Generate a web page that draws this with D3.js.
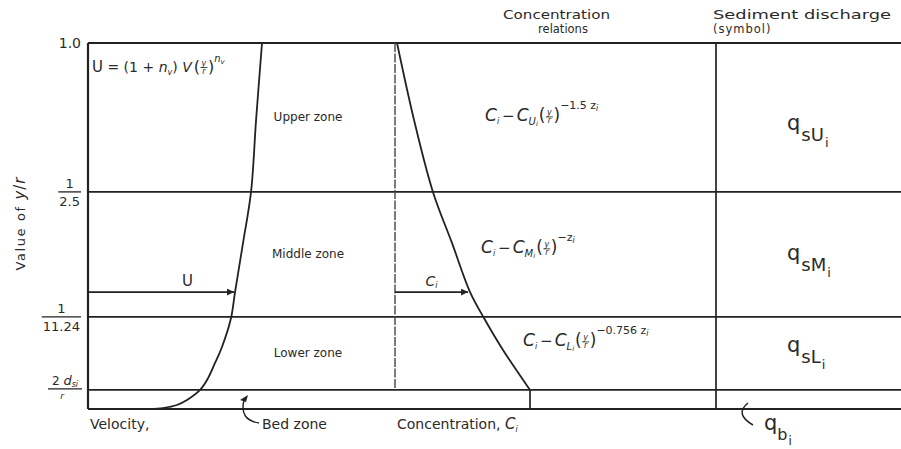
<!DOCTYPE html>
<html><head><meta charset="utf-8">
<script src="https://cdn.jsdelivr.net/npm/d3@7"></script>
<style>
body{margin:0;background:#fff}
svg{display:block}
text{fill:#2a2a2a;font-family:"DejaVu Sans",sans-serif}
</style>
</head><body>
<svg id="c" width="901" height="449"></svg>
<script>
// ---------------- data ----------------
// zone boundary levels of y/r (surface, 1/2.5, 1/11.24, 2d_si/r, bed)
const levels = [1.0, 0.4, 1 / 11.24, 0.0056, 0];
const levelNumer = ["1.0", "1", "1", "2 d"];
const levelDenom = [null, "2.5", "11.24", "r"];
const zoneNames = ["Upper zone", "Middle zone", "Lower zone"];
// velocity profile (relative velocity vs y/r)
const velYR = [1.0, 0.661, 0.4, 0.25, 0.135, 0.087, 0.0444, 0.0263, 0.0117, 0.0056, 0.0015, 0.00036, 0.00003, 0];
const velU  = [1.0, 0.966, 0.937, 0.891, 0.845, 0.822, 0.770, 0.730, 0.684, 0.644, 0.569, 0.511, 0.431, 0.356];
// concentration profile (relative concentration vs y/r)
const concYR = [1.0, 0.661, 0.4, 0.25, 0.135, 0.087, 0.0407, 0.0056];
const concC  = [0.015, 0.141, 0.281, 0.422, 0.556, 0.659, 0.80, 1.0];
const arrowYR = 0.135;
const dischargeSymbols = ["U", "M", "L"];
const relExponents = ["\u22121.5 z", "\u2212z", "\u22120.756 z"];

// ---------------- layout ----------------
const svg = d3.select("#c");
const W = 901;
const colX = [88, 395, 716, W];
const yTop = 43, yBot = 409;
const y = d3.scalePow().exponent(0.57).domain([0, 1]).range([yBot, yTop]);
const xVel = d3.scaleLinear().domain([0, 1]).range([colX[0], colX[0] + 174]);
const xConc = d3.scaleLinear().domain([0, 1]).range([colX[1], colX[1] + 135]);
const ink = "#222";

const defs = svg.append("defs");
defs.append("marker").attr("id", "ah").attr("viewBox", "0 0 10 10")
  .attr("refX", 10).attr("refY", 5).attr("markerWidth", 10).attr("markerHeight", 7)
  .attr("markerUnits", "userSpaceOnUse").attr("orient", "auto")
  .append("path").attr("d", "M0,0L10,5L0,10Z").attr("fill", ink);

// rich text helper: parts laid out left to right
function rich(parent, x, yb, parts, anchor) {
  const g = parent.append("g");
  let cx = 0;
  parts.forEach(p => {
    if (p.frac) {
      const fs = p.s || 15;
      const lp = g.append("text").attr("x", cx).attr("y", yb).attr("font-size", fs)
        .attr("font-family", "Liberation Serif").text("(");
      cx += lp.node().getComputedTextLength() + 0.5;
      const w = 7;
      g.append("text").attr("x", cx + w / 2).attr("y", yb - 6).attr("font-size", 8)
        .attr("text-anchor", "middle").attr("font-style", "italic").attr("font-family", "Liberation Serif").text(p.frac[0]);
      g.append("line").attr("x1", cx).attr("x2", cx + w).attr("y1", yb - 4.5).attr("y2", yb - 4.5)
        .attr("stroke", ink).attr("stroke-width", 0.8);
      g.append("text").attr("x", cx + w / 2).attr("y", yb + 2).attr("font-size", 8)
        .attr("text-anchor", "middle").attr("font-style", "italic").attr("font-family", "Liberation Serif").text(p.frac[1]);
      cx += w + 0.5;
      const rp = g.append("text").attr("x", cx).attr("y", yb).attr("font-size", fs)
        .attr("font-family", "Liberation Serif").text(")");
      cx += rp.node().getComputedTextLength();
    } else {
      const t = g.append("text").attr("x", cx).attr("y", yb + (p.dy || 0))
        .attr("font-size", p.s || 15)
        .attr("font-style", p.i ? "italic" : "normal")
        .attr("font-family", p.f || "Liberation Serif")
        .attr("letter-spacing", p.ls || 0)
        .style("white-space", "pre")
        .text(p.t);
      cx += t.node().getComputedTextLength() + (p.gap || 0);
    }
  });
  const off = anchor === "middle" ? -cx / 2 : anchor === "end" ? -cx : 0;
  g.attr("transform", `translate(${x + off},0)`);
  return g;
}

// ---------------- frame ----------------
const gl = svg.append("g").attr("stroke", ink).attr("fill", "none");
levels.forEach((lv, i) => {
  gl.append("line").attr("x1", colX[0]).attr("x2", W).attr("y1", y(lv)).attr("y2", y(lv))
    .attr("stroke-width", i === 0 || i === levels.length - 1 ? 2.2 : 1.7);
});
gl.append("line").attr("x1", colX[0]).attr("x2", colX[0]).attr("y1", y(1)).attr("y2", y(0)).attr("stroke-width", 2.2);
gl.append("line").attr("x1", colX[1]).attr("x2", colX[1]).attr("y1", y(1)).attr("y2", y(levels[3]))
  .attr("stroke-width", 1.4).attr("stroke", "#444").attr("stroke-dasharray", "9,1.5");
gl.append("line").attr("x1", colX[2]).attr("x2", colX[2]).attr("y1", y(1)).attr("y2", y(0)).attr("stroke-width", 1.7);

// ---------------- curves ----------------
const velLine = d3.line().x(d => xVel(d[1])).y(d => y(d[0])).curve(d3.curveCatmullRom.alpha(0.5));
svg.append("path").datum(velYR.map((v, i) => [v, velU[i]])).attr("d", velLine)
  .attr("fill", "none").attr("stroke", ink).attr("stroke-width", 1.8);
const concLine = d3.line().x(d => xConc(d[1])).y(d => y(d[0])).curve(d3.curveCatmullRom.alpha(0.5));
svg.append("path").datum(concYR.map((v, i) => [v, concC[i]])).attr("d", concLine)
  .attr("fill", "none").attr("stroke", ink).attr("stroke-width", 1.8);
const lastC = concC[concC.length - 1];
svg.append("line").attr("x1", xConc(lastC)).attr("x2", xConc(lastC))
  .attr("y1", y(concYR[concYR.length - 1])).attr("y2", y(0)).attr("stroke", ink).attr("stroke-width", 1.7);

// arrows
const uAt = velU[velYR.indexOf(arrowYR)];
const cAt = concC[concYR.indexOf(arrowYR)];
svg.append("line").attr("x1", colX[0]).attr("x2", xVel(uAt) - 1).attr("y1", y(arrowYR)).attr("y2", y(arrowYR))
  .attr("stroke", ink).attr("stroke-width", 1.7).attr("marker-end", "url(#ah)");
svg.append("line").attr("x1", colX[1]).attr("x2", xConc(cAt) - 2).attr("y1", y(arrowYR)).attr("y2", y(arrowYR))
  .attr("stroke", ink).attr("stroke-width", 1.7).attr("marker-end", "url(#ah)");
svg.append("text").attr("x", (colX[0] + xVel(uAt)) / 2 + 26).attr("y", y(arrowYR) - 6)
  .attr("font-size", 15).attr("text-anchor", "middle").text("U");
rich(svg, (colX[1] + xConc(cAt)) / 2 - 1, y(arrowYR) - 6,
  [{ t: "C", i: true, s: 14 }, { t: "i", i: true, s: 8, dy: 2 }], "middle");

// ---------------- y labels ----------------
const labR = 81;
levels.slice(0, 4).forEach((lv, i) => {
  const yy = y(lv);
  if (!levelDenom[i]) {
    svg.append("text").attr("x", labR).attr("y", yy + 5).attr("text-anchor", "end")
      .attr("font-size", 14).text(levelNumer[i]);
    return;
  }
  if (i === 3) {
    const cxm = 65;
    rich(svg, cxm, yy - 5, [{ t: "2 ", s: 12, f: "DejaVu Sans" }, { t: "d", s: 13, i: true },
      { t: "si", s: 8, i: true, dy: 2 }], "middle");
    svg.append("line").attr("x1", 48).attr("x2", 82).attr("y1", yy - 1).attr("y2", yy - 1)
      .attr("stroke", ink).attr("stroke-width", 1.2);
    svg.append("text").attr("x", 62).attr("y", yy + 9).attr("font-size", 9)
      .attr("font-style", "italic").attr("font-family", "Liberation Serif").attr("text-anchor", "middle").text(levelDenom[i]);
    return;
  }
  const den = svg.append("text").attr("y", yy + 14).attr("font-size", 13).attr("text-anchor", "middle").text(levelDenom[i]);
  const w = den.node().getComputedTextLength() + 2;
  const cxm = labR - w / 2;
  den.attr("x", cxm);
  svg.append("text").attr("x", cxm).attr("y", yy - 4).attr("font-size", 13).attr("text-anchor", "middle").text(levelNumer[i]);
  svg.append("line").attr("x1", cxm - w / 2).attr("x2", cxm + w / 2).attr("y1", yy).attr("y2", yy)
    .attr("stroke", ink).attr("stroke-width", 1.3);
});
// axis title
const at = svg.append("g").attr("transform", "translate(25,224) rotate(-90)");
rich(at, 0, 0, [{ t: "Value of ", s: 13, f: "DejaVu Sans", ls: 1.6 }, { t: "y", s: 15, i: true, gap: 1 },
  { t: "/", s: 15, gap: 1 }, { t: "r", s: 15, i: true }], "middle");

// ---------------- zone labels ----------------
zoneNames.forEach((z, i) => {
  const ym = (y(levels[i]) + y(levels[i + 1])) / 2;
  svg.append("text").attr("x", 308).attr("y", ym + 4).attr("font-size", 12)
    .attr("text-anchor", "middle").text(z);
});

// top-left velocity formula
rich(svg, 92, 72, [
  { t: "U", s: 15, f: "DejaVu Sans" }, { t: " = (1 + ", s: 14 }, { t: "n", s: 14, i: true },
  { t: "v", s: 8, i: true, dy: 3 }, { t: ") ", s: 14 }, { t: "V", s: 14, i: true, gap: 2 },
  { frac: ["y", "r"], s: 16 }, { t: "n", s: 10, i: true, dy: -10 }, { t: "v", s: 7, i: true, dy: -8 }
]);

// ---------------- concentration relations ----------------
const eqX = [485, 481, 523];
const eqDy = [4, -1, -7];
dischargeSymbols.forEach((s, i) => {
  const ym = (y(levels[i]) + y(levels[i + 1])) / 2;
  rich(svg, eqX[i], ym + eqDy[i], [
    { t: "C", s: 17, i: true }, { t: "i", s: 8, i: true, dy: 3, gap: 3 }, { t: "\u2212", s: 15, gap: 2 },
    { t: "C", s: 17, i: true }, { t: s, s: 10, i: true, dy: 4 }, { t: "i", s: 7, i: true, dy: 5, gap: 1 },
    { frac: ["y", "r"], s: 17 },
    { t: relExponents[i], s: 11, dy: -12 }, { t: "i", s: 8, i: true, dy: -10 }
  ]);
});

// ---------------- discharge symbols ----------------
const qDy = [13, 6, -1];
dischargeSymbols.forEach((s, i) => {
  const ym = (y(levels[i]) + y(levels[i + 1])) / 2;
  rich(svg, 787, ym + qDy[i], [
    { t: "q", s: 21, f: "DejaVu Sans", gap: 1 }, { t: "s" + s, s: 18, f: "DejaVu Sans", dy: 11, gap: 1 },
    { t: "i", s: 13, f: "DejaVu Sans", dy: 17 }
  ]);
});
rich(svg, 764, 430, [
  { t: "q", s: 21, f: "DejaVu Sans" }, { t: "b", s: 16, f: "DejaVu Sans", dy: 10, gap: 1 },
  { t: "i", s: 12, f: "DejaVu Sans", dy: 15 }
]);
svg.append("path").attr("d", "M748,403 Q734,414 753,425").attr("fill", "none").attr("stroke", ink).attr("stroke-width", 1.5);

// ---------------- headers ----------------
svg.append("text").attr("x", 503).attr("y", 19).attr("font-size", 11.5)
  .attr("textLength", 107).attr("lengthAdjust", "spacingAndGlyphs").text("Concentration");
svg.append("text").attr("x", 563).attr("y", 32.5).attr("font-size", 11.5)
  .attr("text-anchor", "middle").text("relations");
svg.append("text").attr("x", 713).attr("y", 19).attr("font-size", 11.5)
  .attr("textLength", 178).attr("lengthAdjust", "spacingAndGlyphs").text("Sediment discharge");
svg.append("text").attr("x", 713).attr("y", 32.5).attr("font-size", 11.5)
  .attr("letter-spacing", 1).text("(symbol)");

// ---------------- bottom labels ----------------
svg.append("text").attr("x", 90).attr("y", 429).attr("font-size", 14).text("Velocity,");
svg.append("text").attr("x", 262).attr("y", 429).attr("font-size", 14).text("Bed zone");
rich(svg, 397, 429, [{ t: "Concentration, ", s: 14, f: "DejaVu Sans" }, { t: "C", s: 15, i: true }, { t: "i", s: 8, i: true, dy: 3 }]);
svg.append("path").attr("d", "M244,400 Q239,420 259,423").attr("fill", "none").attr("stroke", ink).attr("stroke-width", 1.4);
svg.append("path").attr("d", "M248,395 L240,400 L246,402 Z").attr("fill", ink);
</script>
</body></html>
